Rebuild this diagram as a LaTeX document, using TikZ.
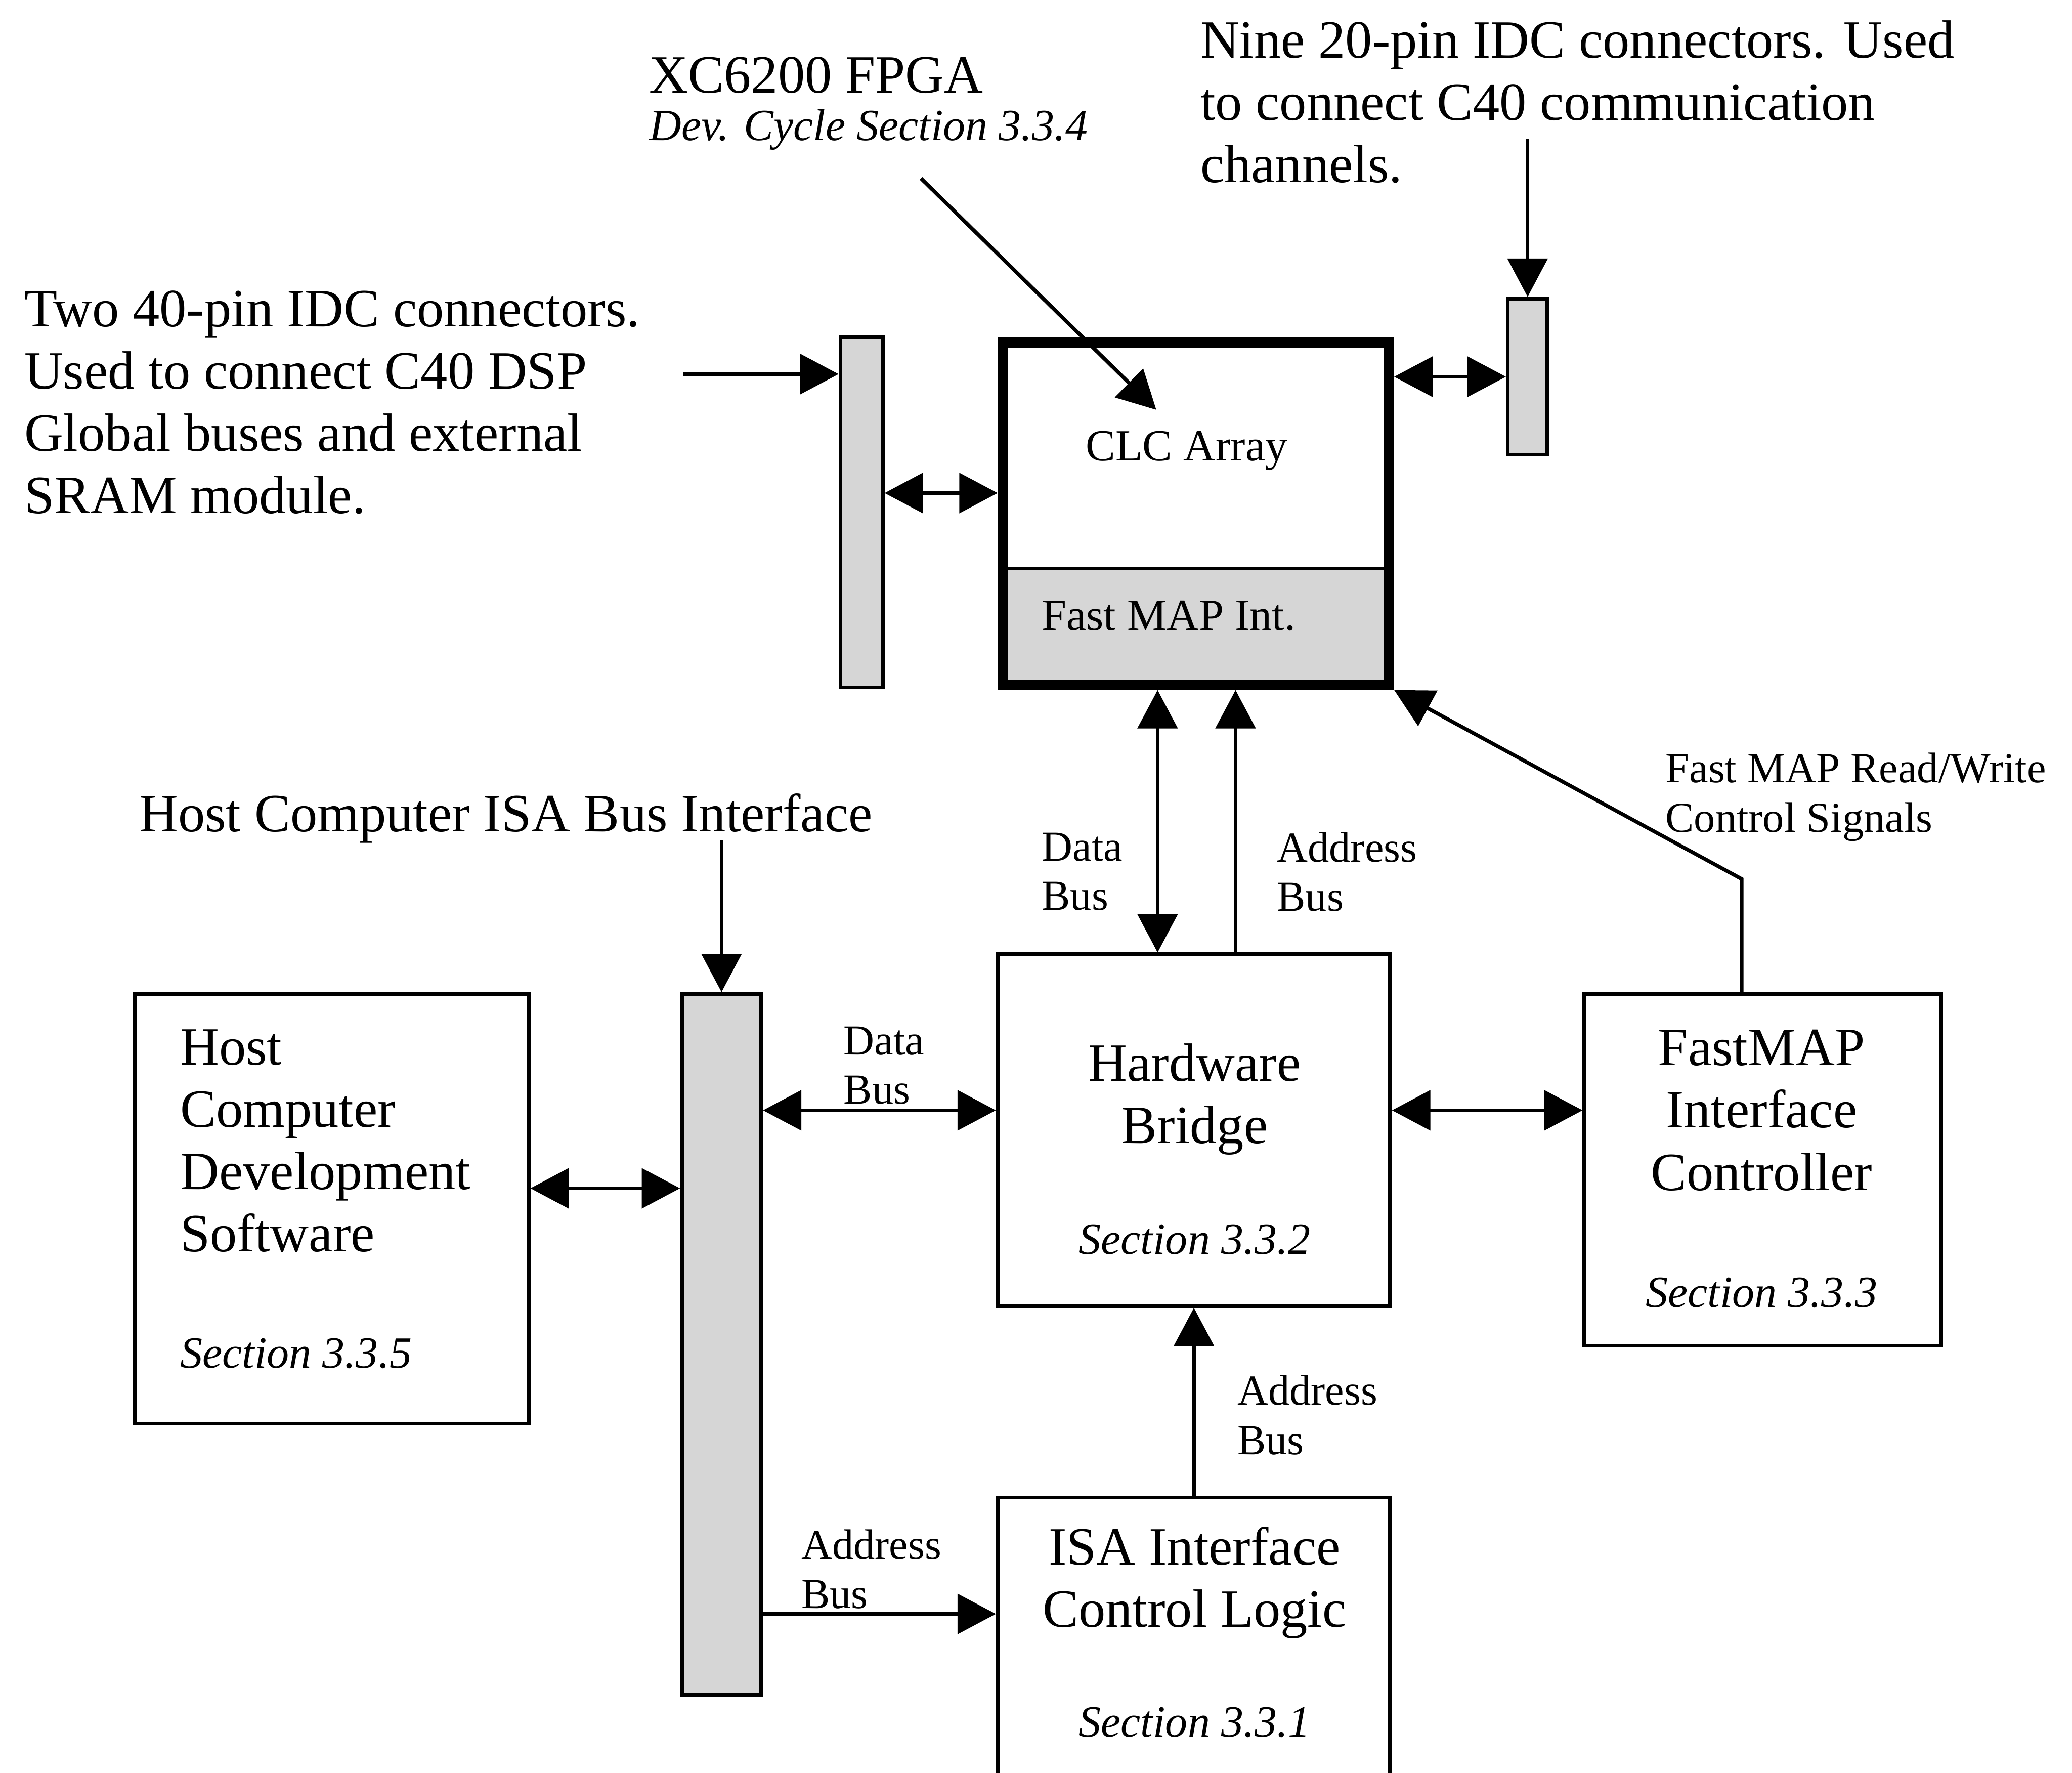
\documentclass[tikz,border=0pt]{standalone}
\usepackage{fontspec}
\setmainfont{Liberation Serif}
\usetikzlibrary{arrows.meta, positioning, backgrounds}
\definecolor{bargray}{gray}{0.84}

\begin{document}
\begin{tikzpicture}[
      >={Triangle[length=2.9mm, width=3mm]},
      line width=0.8pt,
      block/.style={rectangle, draw, line width=0.8pt, inner sep=0pt},
      bar/.style={rectangle, draw, fill=bargray, line width=0.8pt, inner sep=0pt},
      fpgabox/.style={rectangle, draw, line width=2.3pt, inner sep=0pt, minimum width=2.92cm, minimum height=2.59cm},
      note/.style={inner sep=0pt, align=left, font=\fontsize{11.6}{13.4}\selectfont},
      title/.style={inner sep=0pt, align=center, font=\fontsize{11.6}{13.4}\selectfont},
      bus/.style={inner sep=0pt, align=left, font=\fontsize{9.2}{10.6}\selectfont},
      sec/.style={inner sep=0pt, font=\fontsize{9.6}{11}\selectfont\itshape}
  ]
      \useasboundingbox (0,0) rectangle (15.68,-13.41);
      \clip (0,0) rectangle (15.68,-13.41);

      % FPGA and IDC connectors
      \node[fpgabox] (fpga) at (9.05,-3.885) {};
      \coordinate (split) at (9.05,-4.30);
      \begin{scope}[on background layer]
        \fill[bargray] (fpga.south west) rectangle (fpga.east |- split);
      \end{scope}
      \draw (fpga.west |- split) -- (fpga.east |- split);
      \node[bus, font=\fontsize{9.6}{11}\selectfont] (clc) at (8.98,-3.41) {CLC Array};
      \node[bus, anchor=west, font=\fontsize{9.6}{11}\selectfont] (fmapint) at (7.87,-4.66) {Fast MAP Int.};

      \node[bar, minimum width=0.32cm, minimum height=2.65cm] (idcL) at (6.52,-3.875) {};
      \node[bar, minimum width=0.30cm, minimum height=1.18cm] (idcR) at (11.56,-2.85) {};

      % Boards and logic blocks
      \node[block, minimum width=2.98cm, minimum height=3.25cm] (host) at (2.51,-9.145) {};
      \node[bar, minimum width=0.60cm, minimum height=5.30cm] (isabus) at (5.46,-10.17) {};
      \node[block, minimum width=2.97cm, minimum height=2.66cm] (bridge) at (9.035,-8.55) {};
      \node[block, minimum width=2.70cm, minimum height=2.66cm] (fastmap) at (13.34,-8.85) {};
      \node[block, minimum width=2.97cm, minimum height=2.20cm] (isalogic) at (9.035,-12.43) {};

      % Block texts
      \node[note, anchor=west] (hosttxt) at (1.35,-8.63) {Host\\ Computer\\ Development\\ Software};
      \node[sec, anchor=west] (hostsec) at (1.35,-10.24) {Section 3.3.5};
      \node[title] (bridgetxt) at (9.04,-8.315) {Hardware\\ Bridge};
      \node[sec] (bridgesec) at (9.04,-9.38) {Section 3.3.2};
      \node[title] (fmaptxt) at (13.33,-8.40) {FastMAP\\ Interface\\ Controller};
      \node[sec] (fmapsec) at (13.33,-9.78) {Section 3.3.3};
      \node[title] (isatxt) at (9.04,-11.975) {ISA Interface\\ Control Logic};
      \node[sec] (isasec) at (9.04,-13.03) {Section 3.3.1};

      % Notes
      \node[note, anchor=west] (fpgalbl) at (4.90,-0.57) {XC6200 FPGA};
      \node[sec, anchor=west] (devcyc) at (4.90,-0.98) {Dev. Cycle Section 3.3.4};
      \node[note, anchor=west] (nineidc) at (9.07,-0.77) {Nine 20-pin IDC connectors. Used\\ to connect C40 communication\\ channels.};
      \node[note, anchor=west] (twoidc) at (0.17,-3.045) {Two 40-pin IDC connectors.\\ Used to connect C40 DSP\\ Global buses and external\\ SRAM module.};
      \node[note, anchor=west] (hostisa) at (1.04,-6.19) {Host Computer ISA Bus Interface};

      % Bus labels
      \node[bus, anchor=west] (dbusup) at (7.87,-6.595) {Data\\ Bus};
      \node[bus, anchor=west] (abusup) at (9.65,-6.595) {Address\\ Bus};
      \node[bus, anchor=west] (fmapsig) at (12.59,-6.03) {Fast MAP Read/Write\\ Control Signals};
      \node[bus, anchor=west] (dbuslow) at (6.37,-8.06) {Data\\ Bus};
      \node[bus, anchor=west] (abuslow) at (6.05,-11.87) {Address\\ Bus};
      \node[bus, anchor=west] (abusmid) at (9.35,-10.705) {Address\\ Bus};

      % Pointer arrows
      \coordinate (twoidctip) at (5.17,-2.83);
      \coordinate (fpgatail) at (6.97,-1.35);
      \coordinate (clctip) at (8.75,-3.10);
      \draw[->] (twoidctip) -- (idcL.west |- twoidctip);
      \draw[->] (fpgatail) -- (clctip);
      \draw[->] (idcR.north |- 0,-1.05) -- (idcR.north);
      \draw[->] (isabus.north |- 0,-6.36) -- (isabus.north);

      % Buses
      \draw[<->] (idcL.east |- 0,-3.73) -- (fpga.west |- 0,-3.73);
      \draw[<->] (fpga.east |- idcR.west) -- (idcR.west);
      \draw[<->] (fpga.south -| 8.76,0) -- (bridge.north -| 8.76,0);
      \draw[->] (bridge.north -| 9.35,0) -- (fpga.south -| 9.35,0);
      \draw[->] (fastmap.north -| 13.18,0) -- (13.18,-6.65) -- (fpga.south east);
      \draw[<->] (bridge.east |- 0,-8.40) -- (fastmap.west |- 0,-8.40);
      \draw[<->] (host.east |- 0,-8.99) -- (isabus.west |- 0,-8.99);
      \draw[<->] (isabus.east |- 0,-8.40) -- (bridge.west |- 0,-8.40);
      \draw[->] (isabus.east |- 0,-12.21) -- (isalogic.west |- 0,-12.21);
      \draw[->] (isalogic.north) -- (bridge.south);

  \end{tikzpicture}
\end{document}
